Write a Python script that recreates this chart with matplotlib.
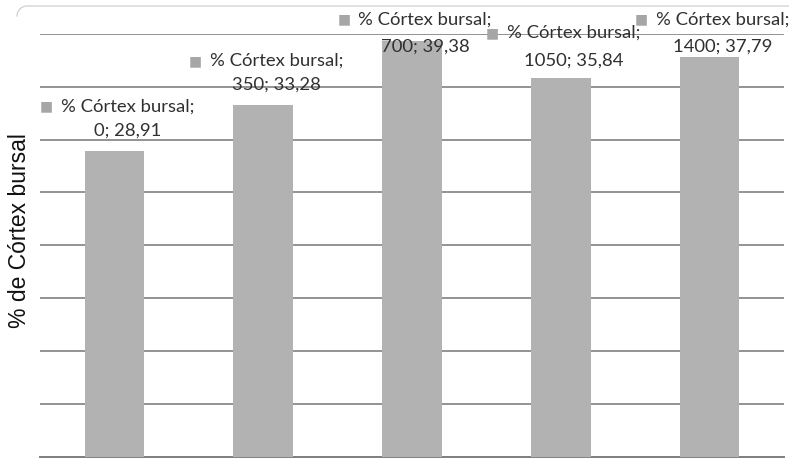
import matplotlib
matplotlib.use("Agg")
import numpy as np
import matplotlib.pyplot as plt
from matplotlib.lines import Line2D

# data
doses = ["0", "350", "700", "1050", "1400"]
cortex_pct = [28.91, 33.28, 39.38, 35.84, 37.79]
series_name = "% Córtex bursal"
y_label = "% de Córtex bursal"

# label placement in pixels relative to the bar top (Excel put them oddly)
line2_dy = [21, 20, -6, 17, 11]      # second line centre above bar top
line_gap = [24, 24, 27, 28, 27]      # first line above second line
label_dx = 13                         # labels sit a bit right of the bar centre

BAR_GREY = "#b2b2b2"
TEXT_GREY = "#303030"
W, H = 789, 458


def fmt(v):
    return f"{v:.2f}".replace(".", ",")


fig = plt.figure(figsize=(W / 100, H / 100), dpi=100)
ax = fig.add_axes([40 / W, 1.5 / H, 744 / W, (456.5 - 34) / H])

x = np.arange(len(doses))
ax.bar(x, cortex_pct, width=0.4, color=BAR_GREY, zorder=3)

ax.set_xlim(-0.5, len(doses) - 0.5)
ax.set_ylim(0, 40)
ax.set_yticks(range(0, 41, 5))
ax.yaxis.grid(True, color="#8a8a8a", linewidth=1.3, zorder=0)
ax.tick_params(left=False, bottom=False, labelleft=False, labelbottom=False)
for side in ["top", "right", "left"]:
    ax.spines[side].set_visible(False)
ax.spines["bottom"].set_color("#808080")
ax.spines["bottom"].set_linewidth(1.4)

ax.set_ylabel(y_label, fontsize=16.5, family="Liberation Sans", color="#111111")
ax.yaxis.set_label_coords(-9 / 744, (457 - 231) / 422.5)

for i, v in enumerate(cortex_pct):
    y2 = line2_dy[i]
    y1 = y2 + line_gap[i]
    ax.annotate(f"{doses[i]}; {fmt(v)}", xy=(i, v), xytext=(label_dx, y2),
                textcoords="offset pixels", ha="center", va="center",
                fontsize=13.3, family="Lato", color=TEXT_GREY, zorder=5)
    ax.annotate(f"{series_name};", xy=(i, v), xytext=(label_dx, y1),
                textcoords="offset pixels", ha="center", va="center",
                fontsize=13.3, family="Lato", color=TEXT_GREY, zorder=5)
    # little grey legend key in front of the first line
    ax.annotate("\u25A0", xy=(i, v), xytext=(label_dx - 81, y1),
                textcoords="offset pixels", ha="center", va="center",
                fontsize=10, family="DejaVu Sans", color="#a6a6a6", zorder=5)

# faint rounded top edge of the chart frame
t = np.linspace(np.pi, np.pi / 2, 12)
r = 10
fx = list(27 + r * np.cos(t)) + [W]
fy = list(16 - r * np.sin(t)) + [6]
fig.add_artist(Line2D(np.array(fx) / W, 1 - np.array(fy) / H,
                      transform=fig.transFigure, color="#d0d0d0", linewidth=0.9))

fig.savefig("out.png", dpi=100)
